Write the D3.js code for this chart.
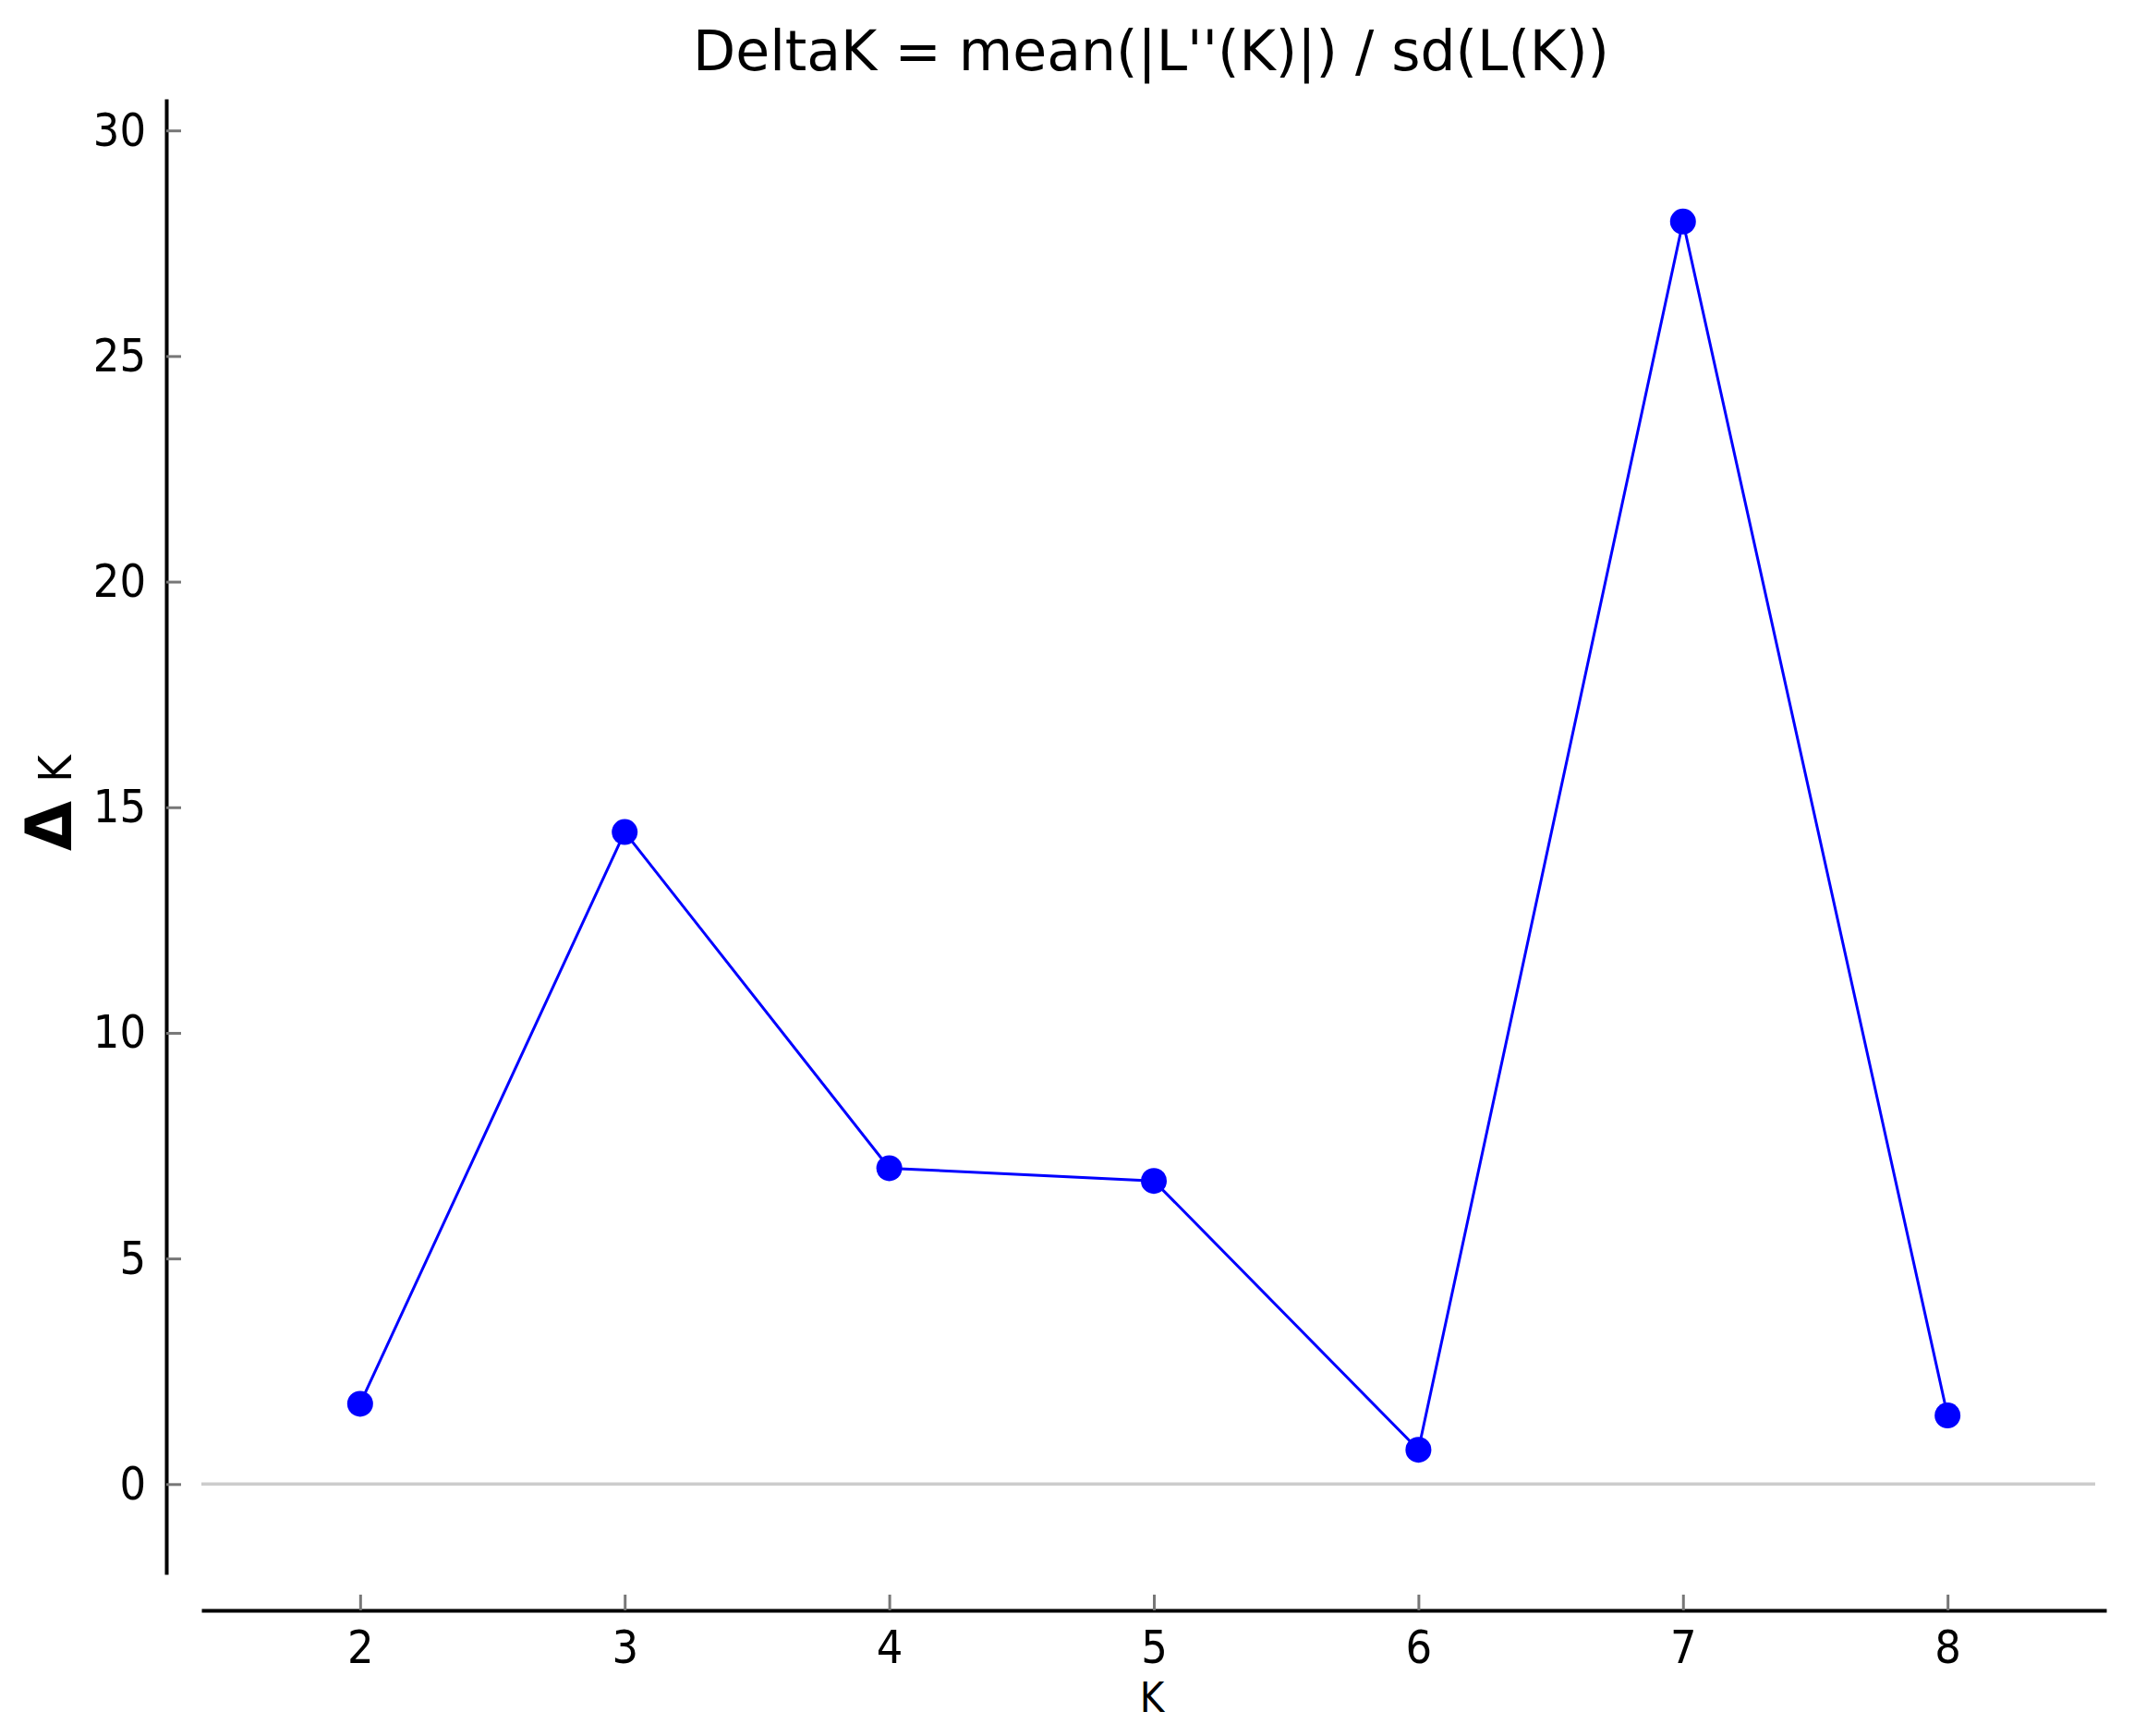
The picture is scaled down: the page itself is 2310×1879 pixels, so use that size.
<!DOCTYPE html>
<html>
<head>
<meta charset="utf-8">
<script src="https://cdn.jsdelivr.net/npm/d3@7"></script>
<style>
    body { margin: 0; background: #fff; }
    svg text { font-family: "DejaVu Sans Condensed", "DejaVu Sans", sans-serif; font-stretch: condensed; fill: #000; }
</style>
</head>
<body>
<svg id="chart" width="2310" height="1879"></svg>
<script>
// values
const k_values = [2, 3, 4, 5, 6, 7, 8];
const delta_k = [1.78, 14.45, 7.0, 6.72, 0.76, 27.98, 1.52];
const y_ticks = [0, 5, 10, 15, 20, 25, 30];
const x_ticks = [2, 3, 4, 5, 6, 7, 8];

const title = "DeltaK = mean(|L''(K)|) / sd(L(K))";

let svg = d3.select("#chart");

let x = d3.scaleLinear()
    .domain([1.4, 8.6])
    .range([218, 2280]);

let y = d3.scaleLinear()
    .domain([-2, 30.7])
    .range([1704, 107]);

// zero reference line
svg.append("line")
    .attr("x1", x.range()[0])
    .attr("x2", x.range()[1] - 12)
    .attr("y1", y(0))
    .attr("y2", y(0))
    .attr("stroke", "#cccccc")
    .attr("stroke-width", 3.5);

// axes
let y_axis = svg.append("g")
    .attr("transform", "translate(180,0)")
    .call(d3.axisLeft(y)
        .tickValues(y_ticks)
        .tickSizeInner(-16)
        .tickSizeOuter(0)
        .tickPadding(22));

let x_axis = svg.append("g")
    .attr("transform", "translate(0,1743)")
    .call(d3.axisBottom(x)
        .tickValues(x_ticks)
        .tickSizeInner(-17)
        .tickSizeOuter(0)
        .tickPadding(21));

for (let axis of [x_axis, y_axis]) {
    axis.select(".domain")
        .attr("stroke", "#000")
        .attr("stroke-width", 4);
    axis.selectAll(".tick line")
        .attr("stroke", "#777")
        .attr("stroke-width", 3);
    axis.selectAll(".tick text")
        .attr("font-size", 50)
        .attr("font-family", null)
        .attr("fill", "#000");
}

// the line and its markers
let line = d3.line()
    .x((_, i) => x(k_values[i]))
    .y(d => y(d));

svg.append("path")
    .attr("d", line(delta_k))
    .attr("fill", "none")
    .attr("stroke", "#0000ff")
    .attr("stroke-width", 3);

svg.append("g")
    .selectAll("circle")
    .data(delta_k)
    .join("circle")
    .attr("cx", (_, i) => x(k_values[i]))
    .attr("cy", d => y(d))
    .attr("r", 14)
    .attr("fill", "#0000ff");

// title and axis labels
svg.append("text")
    .attr("x", 1246)
    .attr("y", 76)
    .attr("text-anchor", "middle")
    .attr("font-size", 60)
    .style("font-family", "'DejaVu Sans', sans-serif")
    .style("font-stretch", "normal")
    .text(title);

svg.append("text")
    .attr("x", 1247)
    .attr("y", 1853)
    .attr("text-anchor", "middle")
    .attr("font-size", 45)
    .text("K");

let y_label = svg.append("text")
    .attr("transform", "translate(77,921) rotate(-90)");

y_label.append("tspan")
    .attr("font-size", 70)
    .attr("font-weight", "bold")
    .style("font-family", "'DejaVu Sans', sans-serif")
    .style("font-stretch", "normal")
    .text("Δ");

y_label.append("tspan")
    .attr("dx", 20)
    .attr("font-size", 50)
    .text("K");
</script>
</body>
</html>
